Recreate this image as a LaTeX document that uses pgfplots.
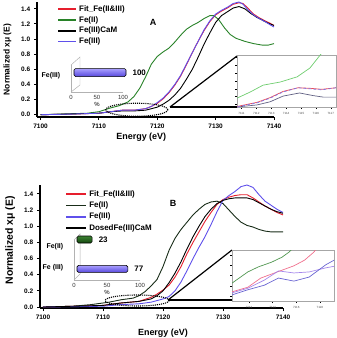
\documentclass[border=0pt]{standalone}
\usepackage{pgfplots}
\pgfplotsset{compat=1.18}
\usepackage{fontspec}
\setmainfont{Liberation Sans}
\definecolor{cred}{RGB}{230,30,45}
\definecolor{cgreen}{RGB}{40,130,40}
\definecolor{cblue}{RGB}{95,80,235}
\definecolor{cdark}{RGB}{25,45,25}
\definecolor{igreen}{RGB}{110,205,110}
\definecolor{ipurple}{RGB}{130,115,225}
\definecolor{igray}{RGB}{95,95,130}
\definecolor{bgreen}{RGB}{80,150,80}
\definecolor{bpink}{RGB}{240,110,140}
\definecolor{blpurple}{RGB}{165,135,235}
\definecolor{bblue}{RGB}{105,100,210}
\definecolor{barl}{RGB}{170,160,255}
\definecolor{bard}{RGB}{85,70,220}
\definecolor{bgl}{RGB}{60,130,50}
\definecolor{bgd}{RGB}{20,70,15}
\pgfplotsset{
 mainax/.style={scale only axis, axis x line*=bottom, axis y line*=left,
   axis line style={line width=1.3pt, black}, tick align=outside, major tick length=3bp,
   tick style={line width=0.9pt, black}, xtick={7100,7110,7120,7130,7140},
   ytick={0,0.2,0.4,0.6,0.8,1.0,1.2,1.4},
   tick label style={font=\fontsize{6.5}{7}\selectfont\bfseries},
   /pgf/number format/assume math mode=true,
   xticklabel style={/pgf/number format/1000 sep={}},
   yticklabel style={/pgf/number format/fixed,/pgf/number format/fixed zerofill,/pgf/number format/precision=1},
   xlabel={Energy (eV)}, ylabel={Normalized xμ (E)},
   xlabel style={font=\fontsize{9}{10}\selectfont\bfseries, anchor=center},
   legend cell align=left,
   legend style={draw=none, fill=none, anchor=north west, font=\fontsize{8}{9}\selectfont\bfseries, row sep=-0.5pt, inner sep=0pt},
   clip=false, line width=0.9pt,
 },
 barax/.style={scale only axis, xmin=0, xmax=100, ymin=0, ymax=1, axis x line*=bottom, axis y line*=left,
   axis line style={gray!60, line width=0.5pt}, xtick={0,50,100}, xtick style={draw=none}, ytick style={draw=none},
   /pgf/number format/assume math mode=true,
   xticklabel style={font=\fontsize{6}{7}\selectfont, text=black!80},
   xlabel={\%}, xlabel style={font=\fontsize{6}{7}\selectfont, yshift=4bp},
   yticklabel style={font=\fontsize{7}{8}\selectfont\bfseries, yshift=-3bp, xshift=-3bp},
   xbar, clip=false, nodes near coords, point meta=x,
   nodes near coords style={font=\fontsize{8}{9}\selectfont\bfseries, anchor=west, xshift=3bp, /pgf/number format/assume math mode=true},
 },
 inax/.style={scale only axis, axis line style={gray!70, line width=0.7pt}, ymin=0, ymax=1,
   xtick pos=bottom, ytick pos=left, tick align=outside, major tick length=2bp,
   tick style={black, line width=0.4pt}, yticklabels={},
   xticklabel style={font=\fontsize{3}{3}\selectfont, text=black!70},
   /pgf/number format/1000 sep={}, /pgf/number format/assume math mode=true,
   line width=0.7pt,
 },
}
\begin{document}
\begin{tikzpicture}
\path[use as bounding box] (0,0) rectangle (337bp,-338bp);
% ================= Panel A =================
\begin{axis}[mainax, at={(37bp,-117bp)}, anchor=south west, width=237bp, height=115bp,
  xmin=7099.4, xmax=7140, ymin=-0.03, ymax=1.49,
  ylabel style={font=\fontsize{8.5}{9}\selectfont\bfseries, at={(axis description cs:-0.125,0.5)}, anchor=center},
  xlabel style={at={(axis description cs:0.44,-0.175)}},
  legend style={at={(axis description cs:0.084,0.99)}},
  legend image code/.code={\draw[#1, line width=1.8pt] (0bp,0bp) -- (18bp,0bp);}]
\addplot[cred] table {
7100 0.0
7106 0.01
7110 0.02
7112 0.04
7114 0.06
7116 0.06
7118 0.08
7119 0.11
7120 0.15
7121 0.21
7122 0.29
7123 0.39
7124 0.51
7125 0.66
7126 0.82
7127 0.97
7128 1.11
7129 1.23
7130 1.32
7131 1.37
7132 1.41
7133 1.46
7134 1.48
7134.7 1.47
7135.5 1.41
7136.5 1.33
7137.5 1.28
7138.5 1.24
7139.3 1.21
7140 1.18
};
\addplot[cgreen] table {
7100 0.0
7104 0.01
7108 0.02
7110 0.04
7112 0.09
7113.5 0.12
7115 0.17
7116 0.24
7117 0.35
7118 0.50
7119 0.67
7120 0.77
7121 0.83
7122 0.88
7123 0.96
7124 1.05
7125 1.13
7126 1.18
7127 1.22
7128 1.27
7129 1.31
7129.7 1.31
7130.5 1.26
7131.5 1.15
7132.5 1.06
7133.5 1.01
7135 0.97
7136.5 0.94
7138 0.92
7139 0.92
7140 0.94
};
\addplot[black] table {
7100 0.0
7110 0.02
7112 0.04
7114 0.05
7116 0.05
7118 0.06
7120 0.10
7121 0.14
7122 0.19
7123 0.26
7124 0.35
7125 0.47
7126 0.60
7127 0.76
7128 0.93
7129 1.08
7130 1.22
7131 1.31
7132 1.36
7133 1.41
7134 1.43
7135 1.40
7136 1.34
7137 1.29
7138 1.25
7139 1.21
7140 1.18
};
\addplot[cblue] table {
7100 0.0
7106 0.01
7110 0.02
7112 0.04
7114 0.06
7116 0.06
7118 0.08
7119 0.11
7120 0.16
7121 0.22
7122 0.30
7123 0.40
7124 0.52
7125 0.67
7126 0.82
7127 0.97
7128 1.12
7129 1.24
7130 1.33
7131 1.38
7132 1.42
7133 1.47
7134 1.49
7134.7 1.46
7135.5 1.39
7136.5 1.32
7137.5 1.27
7138.5 1.23
7139.3 1.19
7140 1.16
};
\legend{Fit\_Fe(II\&III),Fe(II),Fe(III)CaM,Fe(III)}
\node[font=\fontsize{9}{10}\selectfont\bfseries] at (axis cs:7119.3,1.215) {A};
\draw[densely dotted, line width=1.1pt] (axis cs:7116.5,0.066) ellipse[x radius=31bp, y radius=6.5bp];
\end{axis}
\draw[line width=1.2pt] (170bp,-107bp) -- (237bp,-56bp);
\draw[line width=1.2pt] (170bp,-107bp) -- (237bp,-107bp);
% inset zoom A
\begin{axis}[inax, at={(237bp,-107bp)}, anchor=south west, width=99bp, height=52bp,
  xmin=7110.7, xmax=7117.35, xtick={7111,7112,7113,7114,7115,7116,7117},
  ytick={0.05,0.2,0.35,0.5,0.65,0.8,0.95}]
\addplot[igreen] table {
7110.7 0.17
7111.6 0.29
7112.45 0.42
7113.6 0.48
7114.74 0.58
7115.6 0.75
7116.4 1.04
7116.8 1.2
};
\addplot[igray] table {
7110.7 0.0
7112.05 0.04
7112.92 0.10
7113.8 0.21
7114.9 0.27
7115.8 0.22
7116.5 0.19
7117.35 0.19
};
\addplot[cred!80] table {
7110.7 0.01
7112.05 0.09
7112.92 0.18
7113.8 0.30
7114.8 0.37
7115.6 0.36
7116.4 0.34
7117.35 0.37
};
\addplot[ipurple, densely dashed] table {
7110.7 0.0
7112.05 0.08
7112.92 0.17
7113.8 0.29
7114.8 0.37
7115.6 0.35
7116.4 0.33
7117.35 0.37
};
\end{axis}
% bar inset A
\begin{axis}[barax, at={(71bp,-92bp)}, anchor=south west, width=52bp, height=27bp,
  ytick={0.72}, yticklabels={Fe(III)}, bar width=8bp]
\draw[gray!60, line width=0.5pt] (rel axis cs:0,0) -- ++(9bp,7bp) -- ++(0,28bp) -- ++(-9bp,-8bp);
\addplot[draw=black, line width=0.6pt, top color=barl, bottom color=bard, rounded corners=1.5bp, xshift=3bp] coordinates {(100,0.72)};
\end{axis}
% ================= Panel B =================
\begin{axis}[mainax, at={(40bp,-308bp)}, anchor=south west, width=243bp, height=123bp,
  xmin=7099.5, xmax=7140, ymin=-0.012, ymax=1.51,
  ylabel style={font=\fontsize{10.5}{11}\selectfont\bfseries, at={(axis description cs:-0.123,0.55)}, anchor=center},
  xlabel style={at={(axis description cs:0.506,-0.203)}},
  legend style={at={(axis description cs:0.103,0.975)}, row sep=0pt},
  legend image code/.code={\draw[#1, line width=1.8pt] (0bp,0bp) -- (20bp,0bp);}]
\addplot[cred] table {
7100 0.0
7110 0.02
7113 0.05
7116 0.07
7118 0.12
7119 0.16
7120 0.21
7121 0.27
7122 0.37
7123 0.50
7124 0.66
7125 0.80
7126 0.93
7127 1.06
7128 1.17
7129 1.27
7130 1.33
7131 1.36
7132 1.38
7133 1.39
7134 1.39
7135 1.35
7136 1.30
7137 1.25
7138 1.21
7139 1.17
7140 1.14
};
\addplot[cdark] table {
7100 0.0
7105 0.01
7108 0.03
7110 0.05
7111 0.06
7113 0.09
7115 0.11
7116 0.14
7117 0.19
7118 0.26
7119 0.34
7120 0.50
7121 0.70
7122 0.85
7123 0.96
7124 1.05
7125 1.14
7126 1.21
7127 1.27
7128 1.30
7129 1.31
7130 1.28
7131 1.20
7132 1.12
7133 1.05
7134 1.01
7135 0.99
7136 0.96
7137 0.94
7138 0.93
7139 0.93
7140 0.93
};
\addplot[cblue] table {
7100 0.0
7110 0.01
7113 0.03
7116 0.04
7118 0.06
7119 0.08
7120 0.10
7121 0.13
7122 0.20
7123 0.31
7124 0.45
7125 0.60
7126 0.74
7127 0.87
7128 1.02
7129 1.18
7130 1.32
7131 1.38
7132 1.43
7133 1.49
7134 1.51
7135 1.48
7136 1.39
7137 1.31
7138 1.26
7139 1.21
7140 1.17
};
\addplot[black] table {
7100 0.0
7110 0.02
7113 0.05
7116 0.07
7118 0.10
7119 0.14
7120 0.20
7121 0.30
7122 0.42
7123 0.56
7124 0.72
7125 0.87
7126 1.00
7127 1.12
7128 1.21
7129 1.28
7130 1.32
7131 1.34
7132 1.35
7133 1.35
7134 1.35
7135 1.33
7136 1.29
7137 1.25
7138 1.21
7139 1.18
7140 1.16
};
\legend{Fit\_Fe(II\&III),Fe(II),Fe(III),DosedFe(III)CaM}
\node[font=\fontsize{9}{10}\selectfont\bfseries] at (axis cs:7121.7,1.287) {B};
\draw[densely dotted, line width=1.1pt] (axis cs:7115.7,0.081) ellipse[x radius=32bp, y radius=5.5bp];
\end{axis}
\draw[line width=1.2pt] (168bp,-300bp) -- (232bp,-250bp);
\draw[line width=1.2pt] (168bp,-300bp) -- (232bp,-300bp);
% inset zoom B
\begin{axis}[inax, at={(232bp,-301bp)}, anchor=south west, width=102bp, height=51bp,
  xmin=7110.56, xmax=7119.2, xtick={7112,7114,7116,7118},
  ytick={0.1,0.3,0.5,0.7,0.9}]
\addplot[bgreen] table {
7110.56 0.35
7111.9 0.57
7112.8 0.67
7113.9 0.76
7114.8 0.86
7115.4 0.96
7115.8 1.05
};
\addplot[bpink] table {
7110.56 0.18
7111.9 0.27
7113.0 0.45
7114.4 0.57
7115.8 0.69
7116.7 0.80
7117.5 0.96
7117.8 1.05
};
\addplot[blpurple] table {
7110.56 0.16
7111.9 0.25
7113.3 0.41
7114.5 0.59
7115.8 0.55
7117.1 0.57
7118.5 0.65
7119.2 0.68
};
\addplot[bblue] table {
7110.56 0.12
7111.9 0.22
7113.3 0.31
7114.5 0.45
7115.8 0.39
7117.1 0.47
7118.5 0.71
7119.2 0.80
};
\end{axis}
% bar inset B
\begin{axis}[barax, at={(74bp,-280bp)}, anchor=south west, width=66bp, height=40bp,
  ytick={0.39,0.9}, yticklabels={Fe (III),Fe(II)}, bar width=7bp]
\draw[gray!60, line width=0.5pt] (rel axis cs:0,0) -- ++(6bp,6bp) -- ++(0,40bp) -- ++(-6bp,-6bp);
\addplot[draw=black, line width=0.6pt, top color=barl, bottom color=bard, rounded corners=1.5bp, xshift=3bp] coordinates {(77,0.39)};
\addplot[draw=black, line width=0.6pt, top color=bgl, bottom color=bgd, rounded corners=1.5bp, xshift=3bp] coordinates {(23,0.9)};
\end{axis}
\end{tikzpicture}
\end{document}
